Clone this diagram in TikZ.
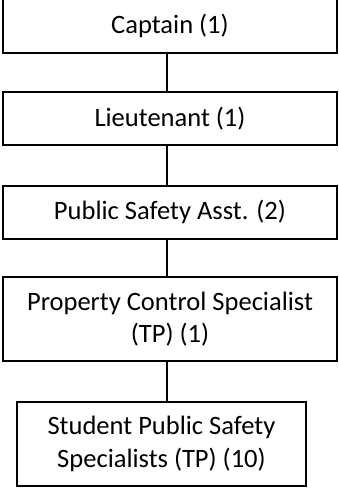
\documentclass[tikz,border=0pt]{standalone}
\usepackage{fontspec}
\setmainfont{Carlito}

\begin{document}
\begin{tikzpicture}[x=0.75pt,y=0.75pt,yscale=-1,xscale=1,
    rank/.style={draw, line width=1.5pt, inner sep=0pt, align=center,
      font=\fontsize{19.9}{24.4}\selectfont, minimum width=250.5pt, minimum height=39.75pt},
    link/.style={line width=1.5pt}]
\useasboundingbox (0,0) rectangle (339,489);
\clip (0,0) rectangle (339,489);
%Shape: Rectangle [Captain]
\node[rank, minimum height=40.5pt] (capt) at (170,26) {Captain (1)};
%Shape: Rectangle [Lieutenant]
\node[rank] (lieut) at (170,118.5) {Lieutenant (1)};
%Shape: Rectangle [Assistant]
\node[rank] (psa) at (170,212) {Public Safety Asst. (2)};
%Shape: Rectangle [Property Control]
\node[rank, minimum height=63pt] (pcs) at (170,319) {Property Control Specialist\\(TP) (1)};
%Shape: Rectangle [Students]
\node[rank, minimum height=63pt, minimum width=216.75pt] (spss) at (161.5,444) {Student Public Safety\\Specialists (TP) (10)};

%Straight Lines
\draw[link] ([xshift=-2.25pt]capt.south) -- ([xshift=-2.25pt]lieut.north) ;
%Straight Lines
\draw[link] ([xshift=-2.25pt]lieut.south) -- ([xshift=-2.25pt]psa.north) ;
%Straight Lines
\draw[link] ([xshift=-2.25pt]psa.south) -- ([xshift=-2.25pt]pcs.north) ;
%Straight Lines
\draw[link] ([xshift=-2.25pt]pcs.south) -- ([xshift=-2.25pt]pcs.south |- spss.north) ;

\end{tikzpicture}
\end{document}
